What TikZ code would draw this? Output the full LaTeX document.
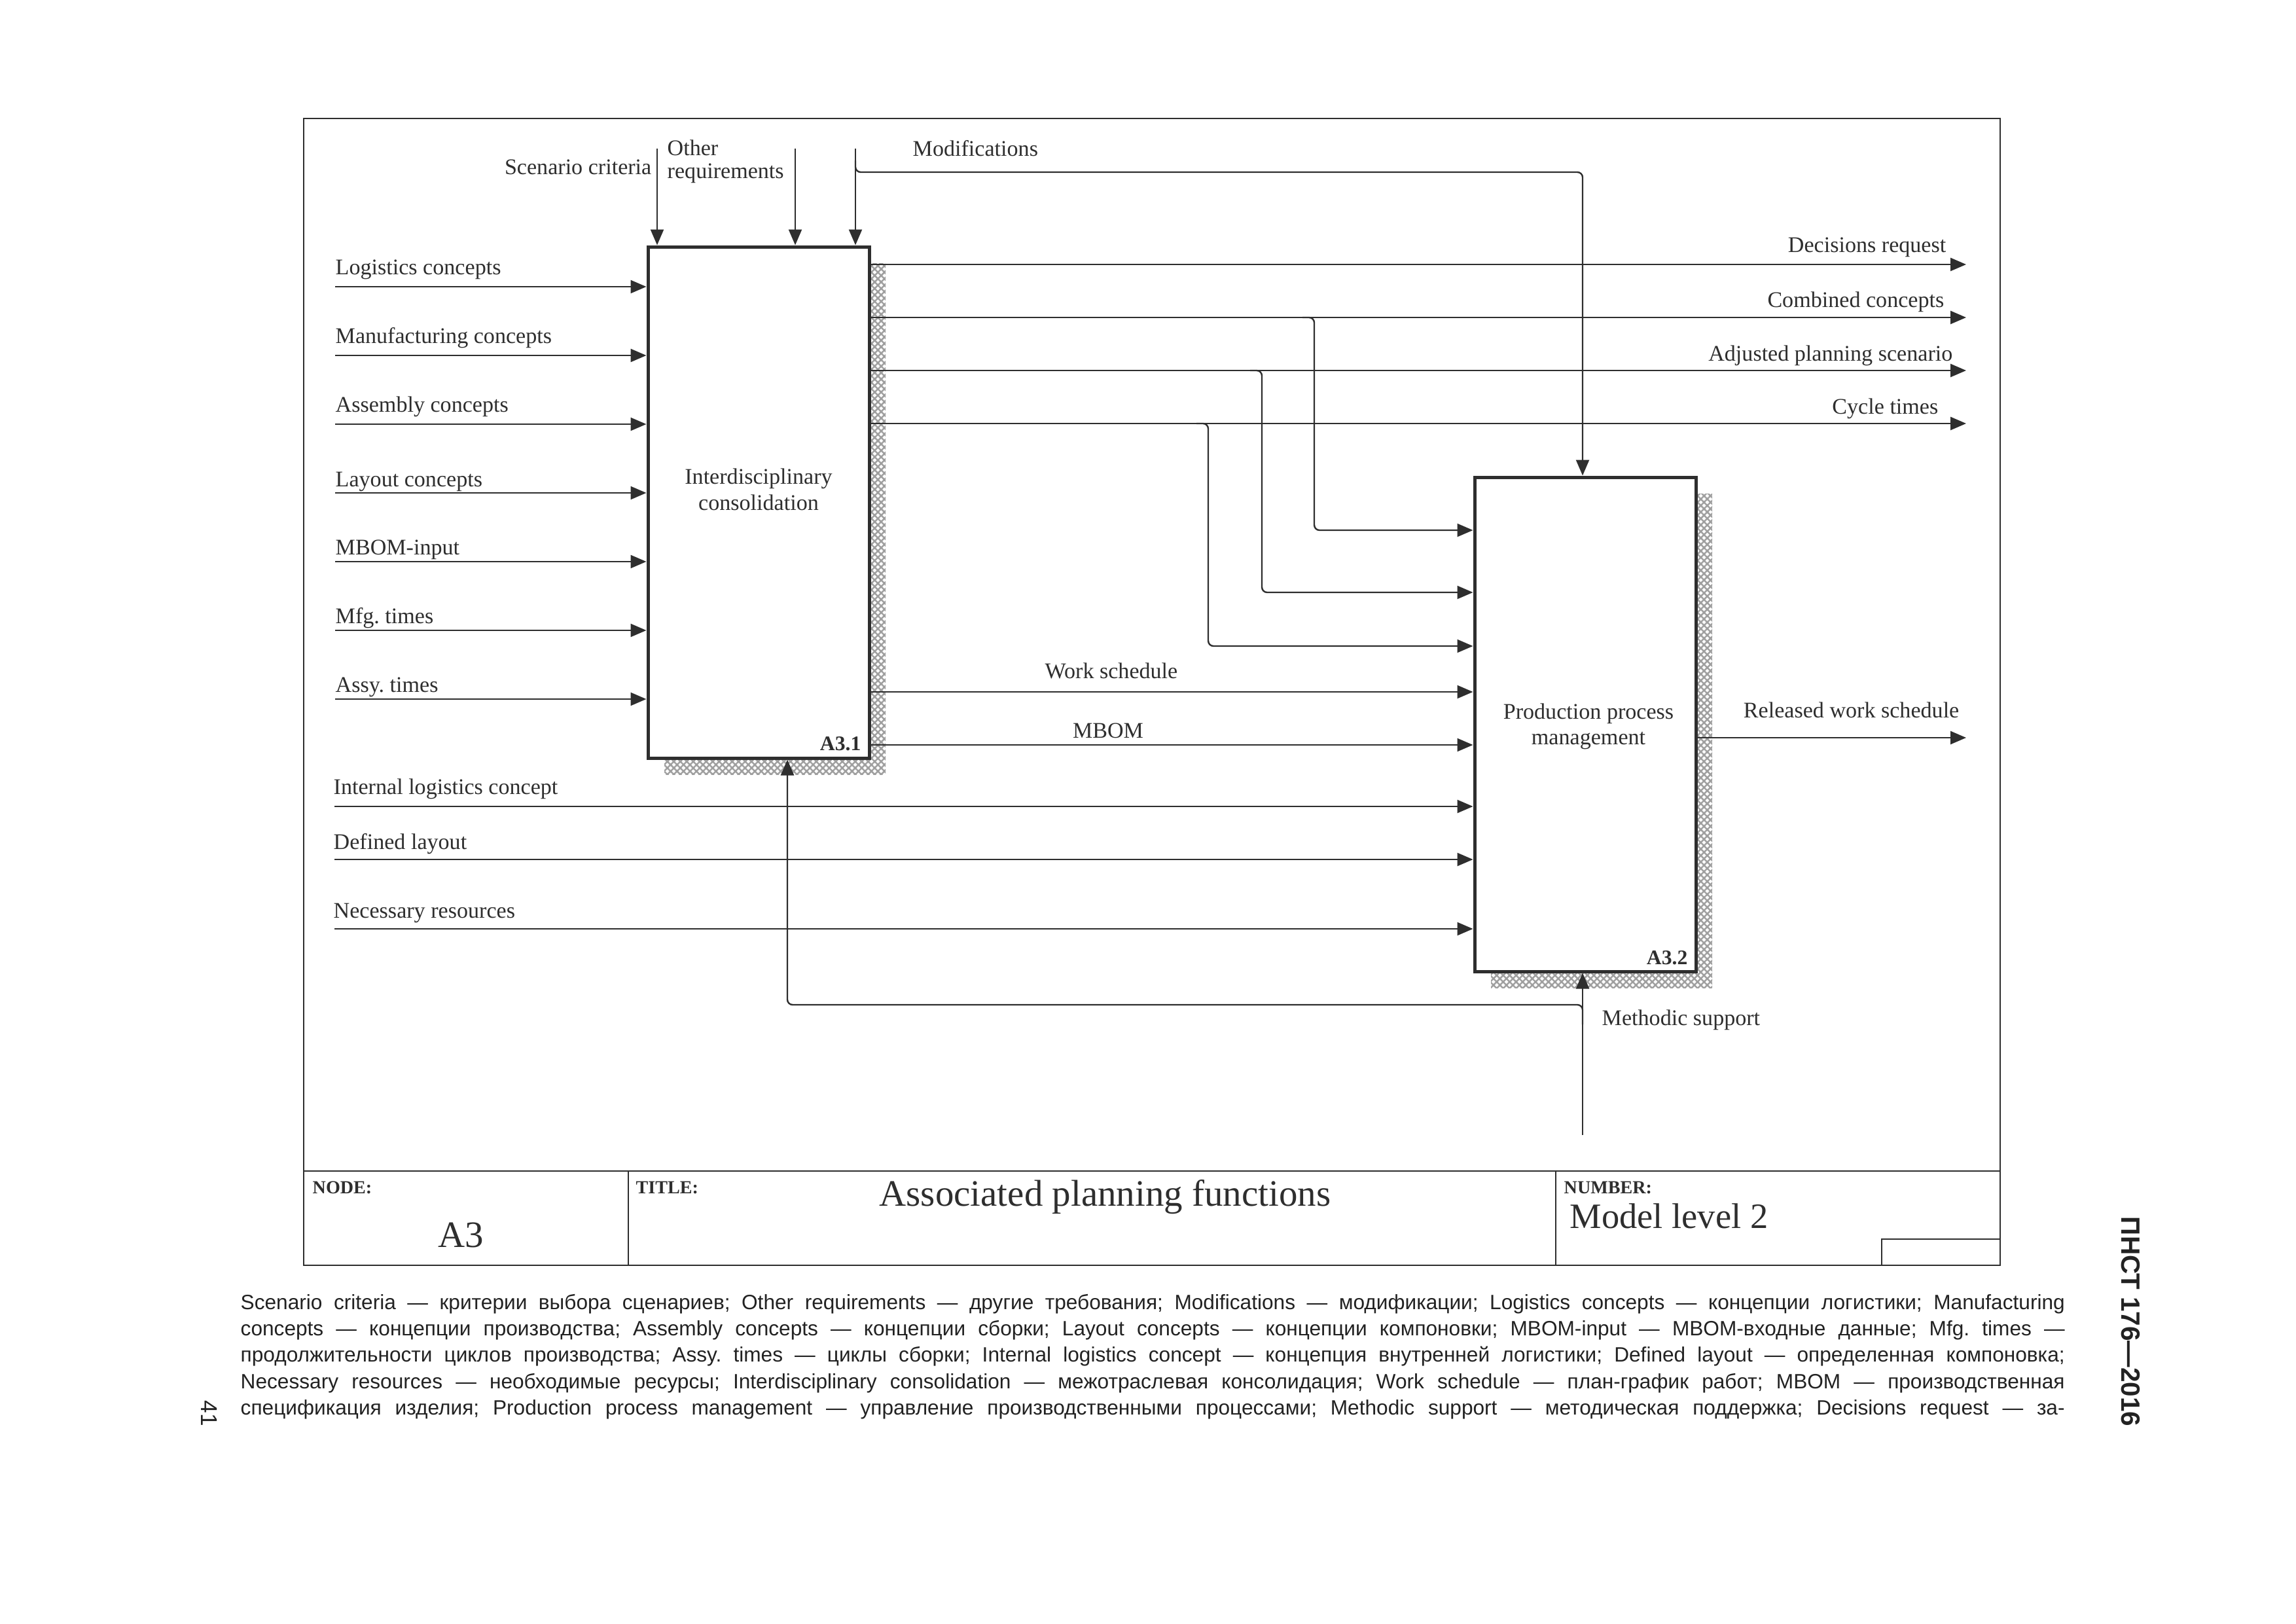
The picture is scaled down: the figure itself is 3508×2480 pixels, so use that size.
\documentclass[tikz,border=0pt]{standalone}
\usepackage{fontspec}
\setmainfont{Liberation Serif}
\newfontfamily\capfont{Liberation Sans}
\usetikzlibrary{arrows.meta,patterns.meta}
\definecolor{ink}{HTML}{2E2E2E}
\definecolor{captxt}{HTML}{222222}
\begin{document}
\frenchspacing
\begin{tikzpicture}[x=0.1mm,y=-0.1mm,
  conn/.style={draw=ink, line width=0.24mm},
  arr/.style={conn, -{Triangle[length=2.4mm,width=2mm]}},
  lbl/.style={inner sep=0pt, text=ink, font=\fontsize{9.7}{11}\selectfont},
  boxlbl/.style={inner sep=0pt, text=ink, font=\fontsize{9}{10}\selectfont\bfseries},
  procbox/.style={draw=ink, line width=0.5mm, fill=white, inner sep=0pt},
  boxshade/.style={pattern={Hatch[angle=45,distance=0.7mm,line width=0.25mm]}, pattern color=gray!75},
  tblhead/.style={inner sep=0pt, text=ink, font=\fontsize{8}{9}\selectfont\bfseries},
  tblbig/.style={inner sep=0pt, text=ink, font=\fontsize{16.2}{18}\selectfont},
  capline/.style={inner sep=0pt, text=captxt, font=\capfont\fontsize{9}{11}\selectfont, anchor=base west}
]
\useasboundingbox (0,0) rectangle (3508,2480);

% frame and title block
\draw[ink, line width=0.25mm] (464,181) rectangle (3056,1933);
\draw[ink, line width=0.25mm] (464,1789) -- (3056,1789);
\draw[ink, line width=0.2mm] (960,1789) -- (960,1933);
\draw[ink, line width=0.2mm] (2377,1789) -- (2377,1933);
\draw[ink, line width=0.2mm] (2875,1933) -- (2875,1893) -- (3056,1893);

\node[tblhead, anchor=base west] (nodehd) at (477,1823) {NODE:};
\node[tblhead, anchor=base west] (titlehd) at (971,1823) {TITLE:};
\node[tblhead, anchor=base west] (numhd) at (2389,1823) {NUMBER:};
\node[tblbig, anchor=base] (nodeval) at (704,1905) {A3};
\node[tblbig, anchor=base west] (titleval) at (1343,1842) {Associated planning functions};
\node[tblbig, anchor=base west, font=\fontsize{15.5}{18}\selectfont] (numval) at (2398,1876) {Model level 2};

% boxes with shadows
\path[boxshade] (1015,402) rectangle (1353,1183);
\node[procbox, minimum width=33.8mm, minimum height=78.1mm] (A31) at (1159,767.5) {};
\path[boxshade] (2278,754) rectangle (2616,1509);
\node[procbox, minimum width=33.8mm, minimum height=75.5mm] (A32) at (2422,1106.5) {};

\node[lbl, align=center, font=\fontsize{9.7}{11.2}\selectfont] (t31) at (1159,748) {Interdisciplinary\\consolidation};
\node[lbl, align=center, font=\fontsize{9.7}{11.2}\selectfont] (t32) at (2427,1110) {Production process\\management};
\node[boxlbl, anchor=base east] (n31) at (1316,1146) {A3.1};
\node[boxlbl, anchor=base east] (n32) at (2579,1473) {A3.2};

% inputs to A3.1
\foreach \y/\t/\d [count=\i] in {438/Logistics concepts/19, 543/Manufacturing concepts/19, 648/Assembly concepts/19, 753/Layout concepts/10, 858/MBOM-input/11, 963/Mfg. times/11, 1068/Assy. times/11} {
  \coordinate (in\i) at (512,\y);
  \draw[arr] (in\i) -- (in\i -| A31.west);
  \node[lbl, anchor=base west] (inl\i) at (512,\y-\d) {\t};
}

% controls of A3.1
\coordinate (c1) at (1004,227);
\coordinate (c2) at (1215,227);
\coordinate (c3) at (1307,227);
\draw[arr] (c1) -- (c1 |- A31.north);
\draw[arr] (c2) -- (c2 |- A31.north);
\draw[arr] (c3) -- (c3 |- A31.north);
\coordinate (mA) at (1307,245);
\coordinate (mB) at (2418,263);
\draw[arr, rounded corners=0.8mm] (mA) |- (mB) -- (mB |- A32.north);
\node[lbl, anchor=base east] (lc1) at (996,266) {Scenario criteria};
\node[lbl, anchor=base west] (lc2a) at (1019,237) {Other};
\node[lbl, anchor=base west] (lc2b) at (1019,272) {requirements};
\node[lbl, anchor=base west] (lc3) at (1394,238) {Modifications};

% outputs of A3.1
\foreach \y/\t/\d/\xe [count=\i] in {404/Decisions request/19/2974, 485/Combined concepts/16/2971, 566/Adjusted planning scenario/15/2984, 647/Cycle times/15/2962} {
  \coordinate (out\i) at (3004,\y);
  \draw[arr] (out\i -| A31.east) -- (out\i);
  \node[lbl, anchor=base east] (outl\i) at (\xe,\y-\d) {\t};
}

% branches of outputs into A3.2
\coordinate (j1) at (1990,485);  \coordinate (b1) at (2008,810);
\coordinate (j2) at (1910,566);  \coordinate (b2) at (1928,905);
\coordinate (j3) at (1828,647);  \coordinate (b3) at (1846,987);
\draw[arr, rounded corners=0.8mm] (j1) -| (b1) -- (b1 -| A32.west);
\draw[arr, rounded corners=0.8mm] (j2) -| (b2) -- (b2 -| A32.west);
\draw[arr, rounded corners=0.8mm] (j3) -| (b3) -- (b3 -| A32.west);

% work schedule and MBOM
\coordinate (ws) at (1700,1057);
\coordinate (mb) at (1700,1138);
\draw[arr] (ws -| A31.east) -- (ws -| A32.west);
\draw[arr] (mb -| A31.east) -- (mb -| A32.west);
\node[lbl, anchor=base] (wsl) at (1698,1036) {Work schedule};
\node[lbl, anchor=base] (mbl) at (1693,1127) {MBOM};

% inputs to A3.2
\foreach \y/\t/\d [count=\i] in {1232/Internal logistics concept/19, 1313/Defined layout/16, 1419/Necessary resources/17} {
  \coordinate (pin\i) at (511,\y);
  \draw[arr] (pin\i) -- (pin\i -| A32.west);
  \node[lbl, anchor=base west] (pinl\i) at (509,\y-\d) {\t};
}

% output of A3.2
\coordinate (rel) at (3004,1127);
\draw[arr] (rel -| A32.east) -- (rel);
\node[lbl, anchor=base east] (rell) at (2994,1096) {Released work schedule};

% mechanism
\coordinate (ms) at (2418,1734);
\draw[arr] (ms) -- (ms |- A32.south);
\coordinate (mj) at (2418,1565);
\coordinate (mk) at (1203,1535);
\draw[arr, rounded corners=0.8mm] (mj) |- (mk) -- (mk |- A31.south);
\node[lbl, anchor=base west] (msl) at (2447,1566) {Methodic support};

% caption
\node[capline] (cap1) at (367,2000) {\makebox[278.7mm][s]{Scenario criteria — критерии выбора сценариев; Other requirements — другие требования; Modifications — модификации; Logistics concepts — концепции логистики; Manufacturing}};
\node[capline] (cap2) at (367,2040) {\makebox[278.7mm][s]{concepts — концепции производства; Assembly concepts — концепции сборки; Layout concepts — концепции компоновки; MBOM-input — MBOM-входные данные; Mfg. times —}};
\node[capline] (cap3) at (367,2080) {\makebox[278.7mm][s]{продолжительности циклов производства; Assy. times — циклы сборки; Internal logistics concept — концепция внутренней логистики; Defined layout — определенная компоновка;}};
\node[capline] (cap4) at (367,2121) {\makebox[278.7mm][s]{Necessary resources — необходимые ресурсы; Interdisciplinary consolidation — межотраслевая консолидация; Work schedule — план-график работ; MBOM — производственная}};
\node[capline] (cap5) at (367,2161) {\makebox[278.7mm][s]{спецификация изделия; Production process management — управление производственными процессами; Methodic support — методическая поддержка; Decisions request — за-}};

% page header and number
\node[rotate=-90, inner sep=0pt, text=captxt, font=\capfont\bfseries\fontsize{11.5}{13}\selectfont] (hdr) at (3255,2019) {ПНСТ 176—2016};
\node[rotate=-90, inner sep=0pt, text=captxt, font=\capfont\fontsize{10}{12}\selectfont] (pg) at (320,2159) {41};
\end{tikzpicture}
\end{document}
